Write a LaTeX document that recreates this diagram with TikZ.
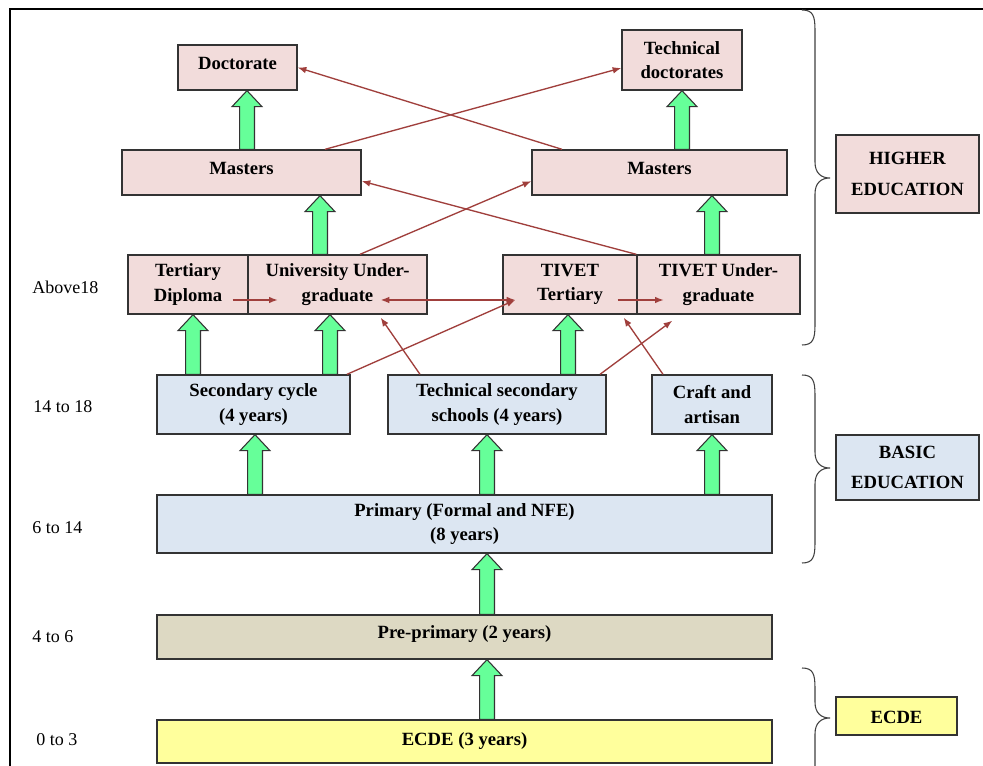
\documentclass[tikz,border=0pt]{standalone}
\usepackage{fontspec}
\setmainfont{Liberation Serif}
\usetikzlibrary{arrows.meta,calc}

\definecolor{pinkfill}{HTML}{F2DCDB}
\definecolor{bluefill}{HTML}{DCE6F2}
\definecolor{tanfill}{HTML}{DDD9C3}
\definecolor{yelfill}{HTML}{FFFF9C}
\definecolor{arrowgreen}{HTML}{66FF99}
\definecolor{linkred}{HTML}{A03F3C}
\definecolor{edge}{HTML}{333333}

\tikzset{
  wh/.style 2 args={minimum width=#1*0.75pt, minimum height=#2*0.75pt},
  basebox/.style={draw=edge, line width=1pt, inner sep=0pt, align=center,
    font=\bfseries\fontsize{14}{18.3}\selectfont},
  pinkbox/.style={basebox, fill=pinkfill},
  bluebox/.style={basebox, fill=bluefill},
  tanbox/.style={basebox, fill=tanfill},
  yelbox/.style={basebox, fill=yelfill},
  caption/.style={font=\bfseries\fontsize{14}{23}\selectfont},
  agelabel/.style={anchor=west, inner sep=0pt, font=\fontsize{13.5}{16}\selectfont},
  garrow/.style={draw=edge, line width=0.8pt, fill=arrowgreen, line join=miter},
  link/.style={draw=linkred, line width=1pt, -{Latex[length=6.5pt,width=5pt]}},
  biglink/.style={draw=linkred, line width=1pt, {Latex[length=6.5pt,width=5pt]}-{Latex[length=6.5pt,width=5pt]}},
  bracepath/.style={draw=black!75, line width=0.8pt},
}

% lift a one-line label a little without changing its box
\newcommand\lift[2]{\raisebox{#1}[\height][\depth]{#2}}

% thick green block arrow pointing up, from the top of #1 to the bottom of #2 at x = #3
\newcommand\upblock[3]{%
  \draw[garrow] let \p1=(#3,0 |- #1.north), \p2=(#3,0 |- #2.south) in
    (\x1-5.6pt,\y1) -- (\x1-5.6pt,\y2-12pt) -- (\x1-11.25pt,\y2-12pt) -- (\x1,\y2)
    -- (\x1+11.25pt,\y2-12pt) -- (\x1+5.6pt,\y2-12pt) -- (\x1+5.6pt,\y1) -- cycle;}

% curly brace opening to the right: top #1, tip #2, bottom #3
\newcommand\levelbrace[3]{%
  \draw[bracepath] (802,#1) .. controls (813,#1) and (815,#1+6) .. (815,#1+20)
    -- (815,#2-16) .. controls (815,#2-5) and (821,#2) .. (830,#2)
    .. controls (821,#2) and (815,#2+5) .. (815,#2+16)
    -- (815,#3-20) .. controls (815,#3-6) and (813,#3) .. (802,#3);}

\begin{document}
\begin{tikzpicture}[x=0.75pt,y=-0.75pt]
\clip (0,0) rectangle (983,766);
\fill[white] (0,0) rectangle (983,766);

% outer frame
\draw[line width=1.5pt] (10,790) -- (10,9) -- (995,9);

% higher education
\node[pinkbox, wh={119}{45}] (doc) at (237.5,67.5) {\lift{3pt}{Doctorate}};
\node[pinkbox, wh={120}{60}] (tdoc) at (682,60) {Technical\\doctorates};
\node[pinkbox, wh={239}{45}] (mL) at (241.5,172.5) {\lift{3pt}{Masters}};
\node[pinkbox, wh={255}{45}] (mR) at (659.5,172.5) {\lift{3pt}{Masters}};
\node[pinkbox, wh={120}{59}] (tdip) at (188,284.5) {Tertiary\\Diploma};
\node[pinkbox, wh={179}{59}] (uug) at (337.5,284.5) {University Under-\\graduate};
\node[pinkbox, wh={134}{59}] (ttert) at (570,284.5) {TIVET\\Tertiary};
\node[pinkbox, wh={163}{59}] (tug) at (718.5,284.5) {TIVET Under-\\graduate};

% basic education
\node[bluebox, wh={193}{59}] (sec) at (253.5,404.5) {Secondary cycle\\(4 years)};
\node[bluebox, wh={218}{59}] (tsec) at (497,404.5) {Technical secondary\\schools (4 years)};
\node[bluebox, wh={120}{59}] (craft) at (712,404.5) {Craft and\\artisan};
\node[bluebox, wh={615}{58}] (prim) at (464.5,524) {Primary (Formal and NFE)\\(8 years)};

% early years
\node[tanbox, wh={615}{44}] (pre) at (464.5,637) {\lift{2pt}{Pre-primary (2 years)}};
\node[yelbox, wh={615}{43}] (ecde) at (464.5,741.5) {ECDE (3 years)};

% level captions
\node[pinkbox, caption, wh={143}{78}] (he) at (907.5,174) {HIGHER\\EDUCATION};
\node[bluebox, caption, wh={143}{65}] (be) at (907.5,467.5) {BASIC\\EDUCATION};
\node[yelbox, wh={121}{38}] (ee) at (896.5,716) {\lift{-1pt}{ECDE}};

% ages
\node[agelabel] (a1) at (32,287) {Above18};
\node[agelabel] (a2) at (33,407) {14 to 18};
\node[agelabel] (a3) at (32,528) {6 to 14};
\node[agelabel] (a4) at (32,637) {4 to 6};
\node[agelabel] (a5) at (36,740) {0 to 3};

% progression arrows
\upblock{mL}{doc}{247}
\upblock{mR}{tdoc}{682}
\upblock{uug}{mL}{320}
\upblock{tug}{mR}{712}
\upblock{sec}{tdip}{193}
\upblock{sec}{uug}{330}
\upblock{tsec}{ttert}{568}
\upblock{prim}{sec}{255}
\upblock{prim}{tsec}{487}
\upblock{prim}{craft}{712}
\upblock{pre}{prim}{487}
\upblock{ecde}{pre}{487}

% cross links
\draw[link] (562,0 |- mR.north) -- (doc.east);
\draw[link] (325,0 |- mL.north) -- ([yshift=-6pt]tdoc.west);
\draw[link] (tug.north west) -- ([yshift=-6.5pt]mL.east);
\draw[link] (360,0 |- uug.north) -- ([yshift=-6.5pt]mR.west);
\draw[link] ([shift={(-16,15.5)}]tdip.east) -- ([shift={(29,15.5)}]tdip.east);
\draw[biglink] ([shift={(-47,15.5)}]uug.east) -- ([shift={(13,15.5)}]ttert.west);
\draw[link] ([shift={(-20,15.5)}]ttert.east) -- ([shift={(26,15.5)}]ttert.east);
\draw[link] (347,0 |- sec.north) -- ([shift={(13,15.5)}]ttert.west);
\draw[link] (420,0 |- tsec.north) -- ([shift={(-47,3)}]uug.south east);
\draw[link] (600,0 |- tsec.north) -- ([shift={(36,6)}]tug.south west);
\draw[link] (663,0 |- craft.north) -- ([shift={(-14,3)}]ttert.south east);

% braces
\levelbrace{10}{178}{345}
\levelbrace{375}{468}{563}
\levelbrace{668}{718}{800}
\end{tikzpicture}
\end{document}
